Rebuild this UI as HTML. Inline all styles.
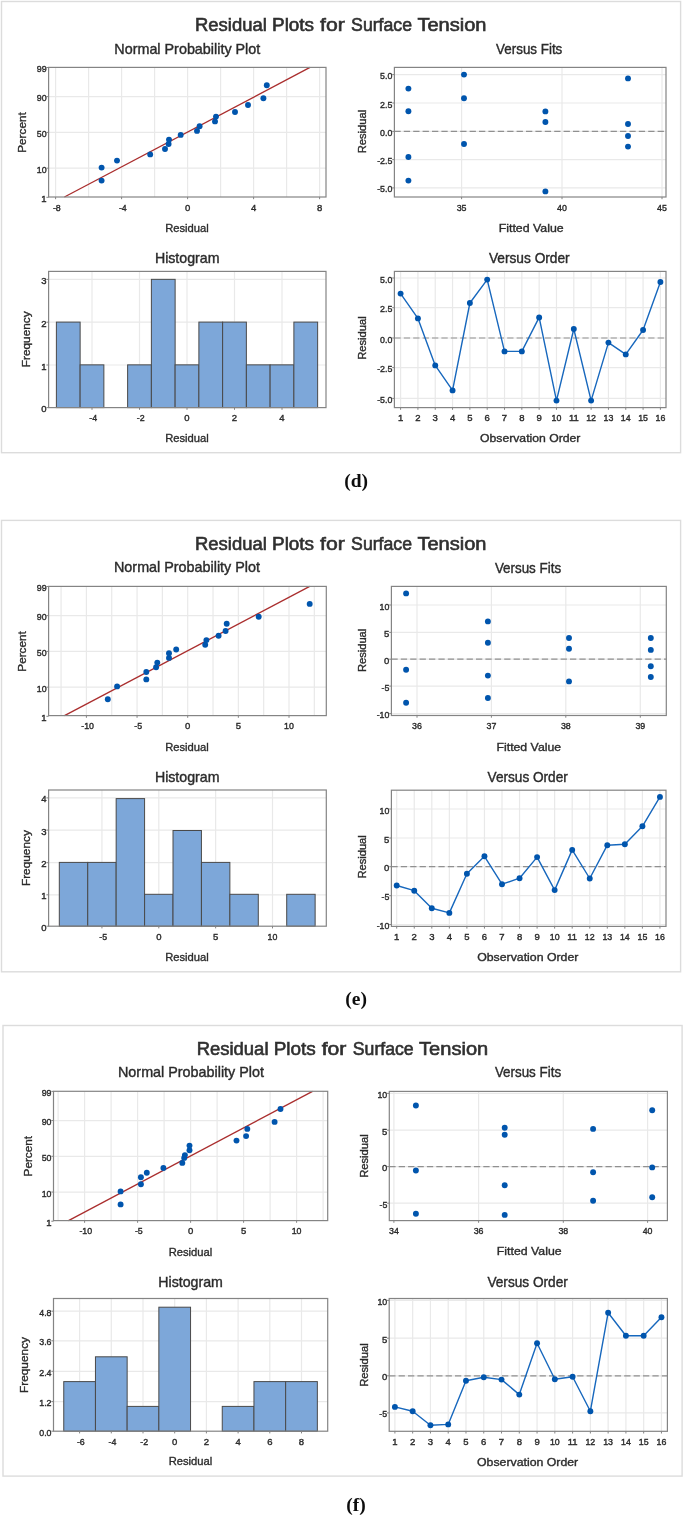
<!DOCTYPE html>
<html lang="en"><head><meta charset="utf-8"><title>Residual Plots for Surface Tension</title>
<style>
html,body{margin:0;padding:0;background:#fff;}
svg{display:block;font-family:"Liberation Sans", sans-serif;}
</style></head><body>
<svg width="685" height="1516" viewBox="0 0 685 1516">
<defs><filter id="soft" x="0" y="0" width="685" height="1516" filterUnits="userSpaceOnUse"><feGaussianBlur stdDeviation="0.38"/></filter></defs>
<rect width="685" height="1516" fill="#fff"/>
<g filter="url(#soft)">
<rect x="1.50" y="1.50" width="679.10" height="451.20" fill="#fff" stroke="#dcdcdc" stroke-width="1.4"/>
<text y="31.30" font-size="17.6" fill="#303030" stroke="#303030" stroke-width="0.6" text-anchor="start" xml:space="default"><tspan x="195.00" textLength="71.80" lengthAdjust="spacingAndGlyphs">Residual</tspan> <tspan x="272.00" textLength="42.10" lengthAdjust="spacingAndGlyphs">Plots</tspan> <tspan x="320.00" textLength="24.70" lengthAdjust="spacingAndGlyphs">for</tspan> <tspan x="351.10" textLength="60.90" lengthAdjust="spacingAndGlyphs">Surface</tspan> <tspan x="417.40" textLength="69.10" lengthAdjust="spacingAndGlyphs">Tension</tspan></text>
<text x="187.30" y="53.50" font-size="14.5" text-anchor="middle" fill="#2c2c2c" textLength="146.00" lengthAdjust="spacingAndGlyphs" stroke="#2c2c2c" stroke-width="0.4">Normal Probability Plot</text>
<rect x="48.60" y="67.40" width="277.40" height="129.60" fill="#fff"/>
<path d="M55.60 67.40V197.00M88.60 67.40V197.00M121.60 67.40V197.00M154.60 67.40V197.00M187.60 67.40V197.00M220.60 67.40V197.00M253.60 67.40V197.00M286.60 67.40V197.00M319.60 67.40V197.00M48.60 168.16H326.00M48.60 132.40H326.00M48.60 96.64H326.00" stroke="#e9e9e9" stroke-width="1.2" fill="none"/>
<line x1="64.40" y1="197.00" x2="310.00" y2="67.40" stroke="#aa2e2e" stroke-width="1.3"/>
<circle cx="101.60" cy="180.60" r="2.95" fill="#0054ad"/>
<circle cx="101.60" cy="167.60" r="2.95" fill="#0054ad"/>
<circle cx="117.00" cy="160.60" r="2.95" fill="#0054ad"/>
<circle cx="150.20" cy="154.40" r="2.95" fill="#0054ad"/>
<circle cx="165.00" cy="149.00" r="2.95" fill="#0054ad"/>
<circle cx="168.60" cy="144.00" r="2.95" fill="#0054ad"/>
<circle cx="169.00" cy="139.60" r="2.95" fill="#0054ad"/>
<circle cx="180.70" cy="134.90" r="2.95" fill="#0054ad"/>
<circle cx="197.00" cy="130.90" r="2.95" fill="#0054ad"/>
<circle cx="199.60" cy="126.30" r="2.95" fill="#0054ad"/>
<circle cx="215.00" cy="121.40" r="2.95" fill="#0054ad"/>
<circle cx="216.00" cy="116.60" r="2.95" fill="#0054ad"/>
<circle cx="235.00" cy="112.00" r="2.95" fill="#0054ad"/>
<circle cx="248.00" cy="105.00" r="2.95" fill="#0054ad"/>
<circle cx="263.40" cy="98.20" r="2.95" fill="#0054ad"/>
<circle cx="266.80" cy="85.30" r="2.95" fill="#0054ad"/>
<path d="M55.60 197.00v2.2M121.60 197.00v2.2M187.60 197.00v2.2M253.60 197.00v2.2M319.60 197.00v2.2M48.60 197.31h-2.2M48.60 168.16h-2.2M48.60 132.40h-2.2M48.60 96.64h-2.2M48.60 67.49h-2.2" stroke="#848484" stroke-width="1" fill="none"/>
<rect x="48.60" y="67.40" width="277.40" height="129.60" fill="none" stroke="#848484" stroke-width="1.2"/>
<text x="56.80" y="210.80" font-size="9.5" text-anchor="middle" fill="#2c2c2c" textLength="7.85" lengthAdjust="spacingAndGlyphs" stroke="#2c2c2c" stroke-width="0.4">-8</text>
<text x="122.80" y="210.80" font-size="9.5" text-anchor="middle" fill="#2c2c2c" textLength="7.85" lengthAdjust="spacingAndGlyphs" stroke="#2c2c2c" stroke-width="0.4">-4</text>
<text x="187.60" y="210.80" font-size="9.5" text-anchor="middle" fill="#2c2c2c" stroke="#2c2c2c" stroke-width="0.4">0</text>
<text x="253.60" y="210.80" font-size="9.5" text-anchor="middle" fill="#2c2c2c" stroke="#2c2c2c" stroke-width="0.4">4</text>
<text x="319.60" y="210.80" font-size="9.5" text-anchor="middle" fill="#2c2c2c" stroke="#2c2c2c" stroke-width="0.4">8</text>
<text x="46.60" y="201.81" font-size="9.5" text-anchor="end" fill="#2c2c2c" stroke="#2c2c2c" stroke-width="0.4">1</text>
<text x="46.60" y="172.66" font-size="9.5" text-anchor="end" fill="#2c2c2c" textLength="9.82" lengthAdjust="spacingAndGlyphs" stroke="#2c2c2c" stroke-width="0.4">10</text>
<text x="46.60" y="136.90" font-size="9.5" text-anchor="end" fill="#2c2c2c" textLength="9.82" lengthAdjust="spacingAndGlyphs" stroke="#2c2c2c" stroke-width="0.4">50</text>
<text x="46.60" y="101.14" font-size="9.5" text-anchor="end" fill="#2c2c2c" textLength="9.82" lengthAdjust="spacingAndGlyphs" stroke="#2c2c2c" stroke-width="0.4">90</text>
<text x="46.60" y="71.99" font-size="9.5" text-anchor="end" fill="#2c2c2c" textLength="9.82" lengthAdjust="spacingAndGlyphs" stroke="#2c2c2c" stroke-width="0.4">99</text>
<text x="187.00" y="232.10" font-size="11.2" text-anchor="middle" fill="#2c2c2c" textLength="43.60" lengthAdjust="spacingAndGlyphs" stroke="#2c2c2c" stroke-width="0.35">Residual</text>
<text x="26.20" y="132.50" font-size="11.2" text-anchor="middle" fill="#2c2c2c" textLength="40.50" lengthAdjust="spacingAndGlyphs" transform="rotate(-90 26.20 132.50)" stroke="#2c2c2c" stroke-width="0.35">Percent</text>
<text x="529.20" y="53.60" font-size="14.5" text-anchor="middle" fill="#2c2c2c" textLength="66.20" lengthAdjust="spacingAndGlyphs" stroke="#2c2c2c" stroke-width="0.4">Versus Fits</text>
<rect x="394.40" y="67.40" width="271.60" height="129.60" fill="#fff"/>
<path d="M461.60 67.40V197.00M562.00 67.40V197.00M662.00 67.40V197.00M394.40 74.60H666.00M394.40 103.00H666.00M394.40 131.40H666.00M394.40 159.60H666.00M394.40 187.90H666.00" stroke="#e9e9e9" stroke-width="1.2" fill="none"/>
<line x1="394.40" y1="131.40" x2="666.00" y2="131.40" stroke="#909090" stroke-width="1.2" stroke-dasharray="6.3 3.1"/>
<circle cx="408.40" cy="88.60" r="2.95" fill="#0054ad"/>
<circle cx="408.40" cy="111.20" r="2.95" fill="#0054ad"/>
<circle cx="408.40" cy="157.00" r="2.95" fill="#0054ad"/>
<circle cx="408.40" cy="180.60" r="2.95" fill="#0054ad"/>
<circle cx="464.00" cy="74.60" r="2.95" fill="#0054ad"/>
<circle cx="464.00" cy="98.20" r="2.95" fill="#0054ad"/>
<circle cx="464.00" cy="144.00" r="2.95" fill="#0054ad"/>
<circle cx="545.40" cy="111.40" r="2.95" fill="#0054ad"/>
<circle cx="545.40" cy="122.00" r="2.95" fill="#0054ad"/>
<circle cx="545.40" cy="191.40" r="2.95" fill="#0054ad"/>
<circle cx="628.00" cy="78.40" r="2.95" fill="#0054ad"/>
<circle cx="628.00" cy="124.00" r="2.95" fill="#0054ad"/>
<circle cx="628.00" cy="136.00" r="2.95" fill="#0054ad"/>
<circle cx="628.00" cy="146.60" r="2.95" fill="#0054ad"/>
<path d="M461.60 197.00v2.2M562.00 197.00v2.2M662.00 197.00v2.2M394.40 74.60h-2.2M394.40 103.00h-2.2M394.40 131.40h-2.2M394.40 159.60h-2.2M394.40 187.90h-2.2" stroke="#848484" stroke-width="1" fill="none"/>
<rect x="394.40" y="67.40" width="271.60" height="129.60" fill="none" stroke="#848484" stroke-width="1.2"/>
<text x="461.60" y="210.80" font-size="9.5" text-anchor="middle" fill="#2c2c2c" textLength="9.82" lengthAdjust="spacingAndGlyphs" stroke="#2c2c2c" stroke-width="0.4">35</text>
<text x="562.00" y="210.80" font-size="9.5" text-anchor="middle" fill="#2c2c2c" textLength="9.82" lengthAdjust="spacingAndGlyphs" stroke="#2c2c2c" stroke-width="0.4">40</text>
<text x="662.00" y="210.80" font-size="9.5" text-anchor="middle" fill="#2c2c2c" textLength="9.82" lengthAdjust="spacingAndGlyphs" stroke="#2c2c2c" stroke-width="0.4">45</text>
<text x="392.40" y="79.10" font-size="9.5" text-anchor="end" fill="#2c2c2c" textLength="12.28" lengthAdjust="spacingAndGlyphs" stroke="#2c2c2c" stroke-width="0.4">5.0</text>
<text x="392.40" y="107.50" font-size="9.5" text-anchor="end" fill="#2c2c2c" textLength="12.28" lengthAdjust="spacingAndGlyphs" stroke="#2c2c2c" stroke-width="0.4">2.5</text>
<text x="392.40" y="135.90" font-size="9.5" text-anchor="end" fill="#2c2c2c" textLength="12.28" lengthAdjust="spacingAndGlyphs" stroke="#2c2c2c" stroke-width="0.4">0.0</text>
<text x="392.40" y="164.10" font-size="9.5" text-anchor="end" fill="#2c2c2c" textLength="15.22" lengthAdjust="spacingAndGlyphs" stroke="#2c2c2c" stroke-width="0.4">-2.5</text>
<text x="392.40" y="192.40" font-size="9.5" text-anchor="end" fill="#2c2c2c" textLength="15.22" lengthAdjust="spacingAndGlyphs" stroke="#2c2c2c" stroke-width="0.4">-5.0</text>
<text x="531.20" y="232.00" font-size="11.2" text-anchor="middle" fill="#2c2c2c" textLength="65.00" lengthAdjust="spacingAndGlyphs" stroke="#2c2c2c" stroke-width="0.35">Fitted Value</text>
<text x="366.00" y="131.50" font-size="11.2" text-anchor="middle" fill="#2c2c2c" textLength="43.40" lengthAdjust="spacingAndGlyphs" transform="rotate(-90 366.00 131.50)" stroke="#2c2c2c" stroke-width="0.35">Residual</text>
<text x="187.20" y="263.30" font-size="14.5" text-anchor="middle" fill="#2c2c2c" textLength="64.60" lengthAdjust="spacingAndGlyphs" stroke="#2c2c2c" stroke-width="0.4">Histogram</text>
<rect x="48.60" y="271.40" width="277.40" height="136.20" fill="#fff"/>
<path d="M92.00 271.40V407.60M139.50 271.40V407.60M187.00 271.40V407.60M234.50 271.40V407.60M282.00 271.40V407.60M48.60 365.00H326.00M48.60 322.20H326.00M48.60 279.40H326.00" stroke="#e9e9e9" stroke-width="1.2" fill="none"/>
<rect x="56.38" y="322.10" width="23.75" height="85.50" fill="#7da7d9" stroke="#4a4a4a" stroke-width="1.0"/>
<rect x="80.12" y="364.85" width="23.75" height="42.75" fill="#7da7d9" stroke="#4a4a4a" stroke-width="1.0"/>
<rect x="127.62" y="364.85" width="23.75" height="42.75" fill="#7da7d9" stroke="#4a4a4a" stroke-width="1.0"/>
<rect x="151.38" y="279.35" width="23.75" height="128.25" fill="#7da7d9" stroke="#4a4a4a" stroke-width="1.0"/>
<rect x="175.12" y="364.85" width="23.75" height="42.75" fill="#7da7d9" stroke="#4a4a4a" stroke-width="1.0"/>
<rect x="198.88" y="322.10" width="23.75" height="85.50" fill="#7da7d9" stroke="#4a4a4a" stroke-width="1.0"/>
<rect x="222.62" y="322.10" width="23.75" height="85.50" fill="#7da7d9" stroke="#4a4a4a" stroke-width="1.0"/>
<rect x="246.38" y="364.85" width="23.75" height="42.75" fill="#7da7d9" stroke="#4a4a4a" stroke-width="1.0"/>
<rect x="270.12" y="364.85" width="23.75" height="42.75" fill="#7da7d9" stroke="#4a4a4a" stroke-width="1.0"/>
<rect x="293.88" y="322.10" width="23.75" height="85.50" fill="#7da7d9" stroke="#4a4a4a" stroke-width="1.0"/>
<path d="M92.00 407.60v2.2M139.50 407.60v2.2M187.00 407.60v2.2M234.50 407.60v2.2M282.00 407.60v2.2M48.60 407.60h-2.2M48.60 365.00h-2.2M48.60 322.20h-2.2M48.60 279.40h-2.2" stroke="#848484" stroke-width="1" fill="none"/>
<rect x="48.60" y="271.40" width="277.40" height="136.20" fill="none" stroke="#848484" stroke-width="1.2"/>
<text x="93.20" y="421.40" font-size="9.5" text-anchor="middle" fill="#2c2c2c" textLength="7.85" lengthAdjust="spacingAndGlyphs" stroke="#2c2c2c" stroke-width="0.4">-4</text>
<text x="140.70" y="421.40" font-size="9.5" text-anchor="middle" fill="#2c2c2c" textLength="7.85" lengthAdjust="spacingAndGlyphs" stroke="#2c2c2c" stroke-width="0.4">-2</text>
<text x="187.00" y="421.40" font-size="9.5" text-anchor="middle" fill="#2c2c2c" stroke="#2c2c2c" stroke-width="0.4">0</text>
<text x="234.50" y="421.40" font-size="9.5" text-anchor="middle" fill="#2c2c2c" stroke="#2c2c2c" stroke-width="0.4">2</text>
<text x="282.00" y="421.40" font-size="9.5" text-anchor="middle" fill="#2c2c2c" stroke="#2c2c2c" stroke-width="0.4">4</text>
<text x="46.60" y="412.10" font-size="9.5" text-anchor="end" fill="#2c2c2c" stroke="#2c2c2c" stroke-width="0.4">0</text>
<text x="46.60" y="369.50" font-size="9.5" text-anchor="end" fill="#2c2c2c" stroke="#2c2c2c" stroke-width="0.4">1</text>
<text x="46.60" y="326.70" font-size="9.5" text-anchor="end" fill="#2c2c2c" stroke="#2c2c2c" stroke-width="0.4">2</text>
<text x="46.60" y="283.90" font-size="9.5" text-anchor="end" fill="#2c2c2c" stroke="#2c2c2c" stroke-width="0.4">3</text>
<text x="187.00" y="441.60" font-size="11.2" text-anchor="middle" fill="#2c2c2c" textLength="43.60" lengthAdjust="spacingAndGlyphs" stroke="#2c2c2c" stroke-width="0.35">Residual</text>
<text x="30.50" y="339.30" font-size="11.2" text-anchor="middle" fill="#2c2c2c" textLength="56.00" lengthAdjust="spacingAndGlyphs" transform="rotate(-90 30.50 339.30)" stroke="#2c2c2c" stroke-width="0.35">Frequency</text>
<text x="529.30" y="263.30" font-size="14.5" text-anchor="middle" fill="#2c2c2c" textLength="80.80" lengthAdjust="spacingAndGlyphs" stroke="#2c2c2c" stroke-width="0.4">Versus Order</text>
<rect x="394.40" y="271.40" width="271.60" height="136.20" fill="#fff"/>
<path d="M400.60 271.40V407.60M417.92 271.40V407.60M435.24 271.40V407.60M452.56 271.40V407.60M469.88 271.40V407.60M487.20 271.40V407.60M504.52 271.40V407.60M521.84 271.40V407.60M539.16 271.40V407.60M556.48 271.40V407.60M573.80 271.40V407.60M591.12 271.40V407.60M608.44 271.40V407.60M625.76 271.40V407.60M643.08 271.40V407.60M660.40 271.40V407.60M394.40 278.00H666.00M394.40 307.70H666.00M394.40 338.00H666.00M394.40 367.60H666.00M394.40 398.40H666.00" stroke="#e9e9e9" stroke-width="1.2" fill="none"/>
<line x1="394.40" y1="338.00" x2="666.00" y2="338.00" stroke="#909090" stroke-width="1.2" stroke-dasharray="6.3 3.1"/>
<path d="M400.60 293.60L417.92 318.40L435.24 365.40L452.56 390.40L469.88 303.00L487.20 279.60L504.52 351.40L521.84 351.40L539.16 317.40L556.48 400.60L573.80 329.00L591.12 400.60L608.44 342.60L625.76 354.40L643.08 330.00L660.40 282.00" stroke="#1767bd" stroke-width="1.4" fill="none" stroke-linejoin="round"/>
<circle cx="400.60" cy="293.60" r="2.95" fill="#0054ad"/>
<circle cx="417.92" cy="318.40" r="2.95" fill="#0054ad"/>
<circle cx="435.24" cy="365.40" r="2.95" fill="#0054ad"/>
<circle cx="452.56" cy="390.40" r="2.95" fill="#0054ad"/>
<circle cx="469.88" cy="303.00" r="2.95" fill="#0054ad"/>
<circle cx="487.20" cy="279.60" r="2.95" fill="#0054ad"/>
<circle cx="504.52" cy="351.40" r="2.95" fill="#0054ad"/>
<circle cx="521.84" cy="351.40" r="2.95" fill="#0054ad"/>
<circle cx="539.16" cy="317.40" r="2.95" fill="#0054ad"/>
<circle cx="556.48" cy="400.60" r="2.95" fill="#0054ad"/>
<circle cx="573.80" cy="329.00" r="2.95" fill="#0054ad"/>
<circle cx="591.12" cy="400.60" r="2.95" fill="#0054ad"/>
<circle cx="608.44" cy="342.60" r="2.95" fill="#0054ad"/>
<circle cx="625.76" cy="354.40" r="2.95" fill="#0054ad"/>
<circle cx="643.08" cy="330.00" r="2.95" fill="#0054ad"/>
<circle cx="660.40" cy="282.00" r="2.95" fill="#0054ad"/>
<path d="M400.60 407.60v2.2M417.92 407.60v2.2M435.24 407.60v2.2M452.56 407.60v2.2M469.88 407.60v2.2M487.20 407.60v2.2M504.52 407.60v2.2M521.84 407.60v2.2M539.16 407.60v2.2M556.48 407.60v2.2M573.80 407.60v2.2M591.12 407.60v2.2M608.44 407.60v2.2M625.76 407.60v2.2M643.08 407.60v2.2M660.40 407.60v2.2M394.40 278.00h-2.2M394.40 307.70h-2.2M394.40 338.00h-2.2M394.40 367.60h-2.2M394.40 398.40h-2.2" stroke="#848484" stroke-width="1" fill="none"/>
<rect x="394.40" y="271.40" width="271.60" height="136.20" fill="none" stroke="#848484" stroke-width="1.2"/>
<text x="400.60" y="421.40" font-size="9.5" text-anchor="middle" fill="#2c2c2c" stroke="#2c2c2c" stroke-width="0.4">1</text>
<text x="417.92" y="421.40" font-size="9.5" text-anchor="middle" fill="#2c2c2c" stroke="#2c2c2c" stroke-width="0.4">2</text>
<text x="435.24" y="421.40" font-size="9.5" text-anchor="middle" fill="#2c2c2c" stroke="#2c2c2c" stroke-width="0.4">3</text>
<text x="452.56" y="421.40" font-size="9.5" text-anchor="middle" fill="#2c2c2c" stroke="#2c2c2c" stroke-width="0.4">4</text>
<text x="469.88" y="421.40" font-size="9.5" text-anchor="middle" fill="#2c2c2c" stroke="#2c2c2c" stroke-width="0.4">5</text>
<text x="487.20" y="421.40" font-size="9.5" text-anchor="middle" fill="#2c2c2c" stroke="#2c2c2c" stroke-width="0.4">6</text>
<text x="504.52" y="421.40" font-size="9.5" text-anchor="middle" fill="#2c2c2c" stroke="#2c2c2c" stroke-width="0.4">7</text>
<text x="521.84" y="421.40" font-size="9.5" text-anchor="middle" fill="#2c2c2c" stroke="#2c2c2c" stroke-width="0.4">8</text>
<text x="539.16" y="421.40" font-size="9.5" text-anchor="middle" fill="#2c2c2c" stroke="#2c2c2c" stroke-width="0.4">9</text>
<text x="556.48" y="421.40" font-size="9.5" text-anchor="middle" fill="#2c2c2c" textLength="9.82" lengthAdjust="spacingAndGlyphs" stroke="#2c2c2c" stroke-width="0.4">10</text>
<text x="573.80" y="421.40" font-size="9.5" text-anchor="middle" fill="#2c2c2c" textLength="9.82" lengthAdjust="spacingAndGlyphs" stroke="#2c2c2c" stroke-width="0.4">11</text>
<text x="591.12" y="421.40" font-size="9.5" text-anchor="middle" fill="#2c2c2c" textLength="9.82" lengthAdjust="spacingAndGlyphs" stroke="#2c2c2c" stroke-width="0.4">12</text>
<text x="608.44" y="421.40" font-size="9.5" text-anchor="middle" fill="#2c2c2c" textLength="9.82" lengthAdjust="spacingAndGlyphs" stroke="#2c2c2c" stroke-width="0.4">13</text>
<text x="625.76" y="421.40" font-size="9.5" text-anchor="middle" fill="#2c2c2c" textLength="9.82" lengthAdjust="spacingAndGlyphs" stroke="#2c2c2c" stroke-width="0.4">14</text>
<text x="643.08" y="421.40" font-size="9.5" text-anchor="middle" fill="#2c2c2c" textLength="9.82" lengthAdjust="spacingAndGlyphs" stroke="#2c2c2c" stroke-width="0.4">15</text>
<text x="660.40" y="421.40" font-size="9.5" text-anchor="middle" fill="#2c2c2c" textLength="9.82" lengthAdjust="spacingAndGlyphs" stroke="#2c2c2c" stroke-width="0.4">16</text>
<text x="392.40" y="282.50" font-size="9.5" text-anchor="end" fill="#2c2c2c" textLength="12.28" lengthAdjust="spacingAndGlyphs" stroke="#2c2c2c" stroke-width="0.4">5.0</text>
<text x="392.40" y="312.20" font-size="9.5" text-anchor="end" fill="#2c2c2c" textLength="12.28" lengthAdjust="spacingAndGlyphs" stroke="#2c2c2c" stroke-width="0.4">2.5</text>
<text x="392.40" y="342.50" font-size="9.5" text-anchor="end" fill="#2c2c2c" textLength="12.28" lengthAdjust="spacingAndGlyphs" stroke="#2c2c2c" stroke-width="0.4">0.0</text>
<text x="392.40" y="372.10" font-size="9.5" text-anchor="end" fill="#2c2c2c" textLength="15.22" lengthAdjust="spacingAndGlyphs" stroke="#2c2c2c" stroke-width="0.4">-2.5</text>
<text x="392.40" y="402.90" font-size="9.5" text-anchor="end" fill="#2c2c2c" textLength="15.22" lengthAdjust="spacingAndGlyphs" stroke="#2c2c2c" stroke-width="0.4">-5.0</text>
<text x="530.20" y="442.40" font-size="11.2" text-anchor="middle" fill="#2c2c2c" textLength="100.40" lengthAdjust="spacingAndGlyphs" stroke="#2c2c2c" stroke-width="0.35">Observation Order</text>
<text x="366.00" y="338.00" font-size="11.2" text-anchor="middle" fill="#2c2c2c" textLength="43.40" lengthAdjust="spacingAndGlyphs" transform="rotate(-90 366.00 338.00)" stroke="#2c2c2c" stroke-width="0.35">Residual</text>
<text x="356.20" y="486.60" font-size="19.5" text-anchor="middle" fill="#111" font-weight="bold" font-family='"Liberation Serif", serif'>(d)</text>
<rect x="1.50" y="520.40" width="679.10" height="451.40" fill="#fff" stroke="#dcdcdc" stroke-width="1.4"/>
<text y="550.20" font-size="17.6" fill="#303030" stroke="#303030" stroke-width="0.6" text-anchor="start" xml:space="default"><tspan x="195.00" textLength="71.80" lengthAdjust="spacingAndGlyphs">Residual</tspan> <tspan x="272.00" textLength="42.10" lengthAdjust="spacingAndGlyphs">Plots</tspan> <tspan x="320.00" textLength="24.70" lengthAdjust="spacingAndGlyphs">for</tspan> <tspan x="351.10" textLength="60.90" lengthAdjust="spacingAndGlyphs">Surface</tspan> <tspan x="417.40" textLength="69.10" lengthAdjust="spacingAndGlyphs">Tension</tspan></text>
<text x="187.00" y="572.40" font-size="14.5" text-anchor="middle" fill="#2c2c2c" textLength="146.00" lengthAdjust="spacingAndGlyphs" stroke="#2c2c2c" stroke-width="0.4">Normal Probability Plot</text>
<rect x="48.60" y="586.40" width="277.70" height="129.20" fill="#fff"/>
<path d="M61.07 586.40V715.60M86.40 586.40V715.60M111.72 586.40V715.60M137.05 586.40V715.60M162.38 586.40V715.60M187.70 586.40V715.60M213.02 586.40V715.60M238.35 586.40V715.60M263.68 586.40V715.60M289.00 586.40V715.60M314.32 586.40V715.60M48.60 687.16H326.30M48.60 651.40H326.30M48.60 615.64H326.30" stroke="#e9e9e9" stroke-width="1.2" fill="none"/>
<line x1="64.50" y1="715.60" x2="309.70" y2="586.40" stroke="#aa2e2e" stroke-width="1.3"/>
<circle cx="107.80" cy="699.30" r="2.95" fill="#0054ad"/>
<circle cx="117.10" cy="686.40" r="2.95" fill="#0054ad"/>
<circle cx="146.30" cy="679.40" r="2.95" fill="#0054ad"/>
<circle cx="146.30" cy="672.00" r="2.95" fill="#0054ad"/>
<circle cx="156.10" cy="667.30" r="2.95" fill="#0054ad"/>
<circle cx="157.30" cy="662.60" r="2.95" fill="#0054ad"/>
<circle cx="169.00" cy="657.90" r="2.95" fill="#0054ad"/>
<circle cx="169.00" cy="653.30" r="2.95" fill="#0054ad"/>
<circle cx="176.20" cy="649.50" r="2.95" fill="#0054ad"/>
<circle cx="205.20" cy="644.80" r="2.95" fill="#0054ad"/>
<circle cx="206.40" cy="640.10" r="2.95" fill="#0054ad"/>
<circle cx="218.60" cy="635.70" r="2.95" fill="#0054ad"/>
<circle cx="225.60" cy="631.00" r="2.95" fill="#0054ad"/>
<circle cx="226.70" cy="623.70" r="2.95" fill="#0054ad"/>
<circle cx="258.70" cy="616.70" r="2.95" fill="#0054ad"/>
<circle cx="309.70" cy="603.90" r="2.95" fill="#0054ad"/>
<path d="M86.40 715.60v2.2M137.05 715.60v2.2M187.70 715.60v2.2M238.35 715.60v2.2M289.00 715.60v2.2M48.60 716.31h-2.2M48.60 687.16h-2.2M48.60 651.40h-2.2M48.60 615.64h-2.2M48.60 586.49h-2.2" stroke="#848484" stroke-width="1" fill="none"/>
<rect x="48.60" y="586.40" width="277.70" height="129.20" fill="none" stroke="#848484" stroke-width="1.2"/>
<text x="87.60" y="729.40" font-size="9.5" text-anchor="middle" fill="#2c2c2c" textLength="12.77" lengthAdjust="spacingAndGlyphs" stroke="#2c2c2c" stroke-width="0.4">-10</text>
<text x="138.25" y="729.40" font-size="9.5" text-anchor="middle" fill="#2c2c2c" textLength="7.85" lengthAdjust="spacingAndGlyphs" stroke="#2c2c2c" stroke-width="0.4">-5</text>
<text x="187.70" y="729.40" font-size="9.5" text-anchor="middle" fill="#2c2c2c" stroke="#2c2c2c" stroke-width="0.4">0</text>
<text x="238.35" y="729.40" font-size="9.5" text-anchor="middle" fill="#2c2c2c" stroke="#2c2c2c" stroke-width="0.4">5</text>
<text x="289.00" y="729.40" font-size="9.5" text-anchor="middle" fill="#2c2c2c" textLength="9.82" lengthAdjust="spacingAndGlyphs" stroke="#2c2c2c" stroke-width="0.4">10</text>
<text x="46.60" y="720.81" font-size="9.5" text-anchor="end" fill="#2c2c2c" stroke="#2c2c2c" stroke-width="0.4">1</text>
<text x="46.60" y="691.66" font-size="9.5" text-anchor="end" fill="#2c2c2c" textLength="9.82" lengthAdjust="spacingAndGlyphs" stroke="#2c2c2c" stroke-width="0.4">10</text>
<text x="46.60" y="655.90" font-size="9.5" text-anchor="end" fill="#2c2c2c" textLength="9.82" lengthAdjust="spacingAndGlyphs" stroke="#2c2c2c" stroke-width="0.4">50</text>
<text x="46.60" y="620.14" font-size="9.5" text-anchor="end" fill="#2c2c2c" textLength="9.82" lengthAdjust="spacingAndGlyphs" stroke="#2c2c2c" stroke-width="0.4">90</text>
<text x="46.60" y="590.99" font-size="9.5" text-anchor="end" fill="#2c2c2c" textLength="9.82" lengthAdjust="spacingAndGlyphs" stroke="#2c2c2c" stroke-width="0.4">99</text>
<text x="187.00" y="751.00" font-size="11.2" text-anchor="middle" fill="#2c2c2c" textLength="43.60" lengthAdjust="spacingAndGlyphs" stroke="#2c2c2c" stroke-width="0.35">Residual</text>
<text x="26.20" y="651.40" font-size="11.2" text-anchor="middle" fill="#2c2c2c" textLength="40.50" lengthAdjust="spacingAndGlyphs" transform="rotate(-90 26.20 651.40)" stroke="#2c2c2c" stroke-width="0.35">Percent</text>
<text x="528.00" y="572.50" font-size="14.5" text-anchor="middle" fill="#2c2c2c" textLength="66.20" lengthAdjust="spacingAndGlyphs" stroke="#2c2c2c" stroke-width="0.4">Versus Fits</text>
<rect x="391.40" y="586.40" width="274.90" height="129.10" fill="#fff"/>
<path d="M417.00 586.40V715.50M491.40 586.40V715.50M565.80 586.40V715.50M640.30 586.40V715.50M391.40 605.00H666.30M391.40 632.40H666.30M391.40 659.20H666.30M391.40 686.10H666.30M391.40 713.60H666.30" stroke="#e9e9e9" stroke-width="1.2" fill="none"/>
<line x1="391.40" y1="659.20" x2="666.30" y2="659.20" stroke="#909090" stroke-width="1.2" stroke-dasharray="6.3 3.1"/>
<circle cx="406.10" cy="593.40" r="2.95" fill="#0054ad"/>
<circle cx="406.10" cy="669.70" r="2.95" fill="#0054ad"/>
<circle cx="406.10" cy="702.70" r="2.95" fill="#0054ad"/>
<circle cx="487.90" cy="621.40" r="2.95" fill="#0054ad"/>
<circle cx="487.90" cy="642.70" r="2.95" fill="#0054ad"/>
<circle cx="487.90" cy="675.60" r="2.95" fill="#0054ad"/>
<circle cx="487.90" cy="698.00" r="2.95" fill="#0054ad"/>
<circle cx="569.00" cy="638.00" r="2.95" fill="#0054ad"/>
<circle cx="569.00" cy="648.70" r="2.95" fill="#0054ad"/>
<circle cx="569.00" cy="681.40" r="2.95" fill="#0054ad"/>
<circle cx="650.80" cy="638.00" r="2.95" fill="#0054ad"/>
<circle cx="650.80" cy="649.90" r="2.95" fill="#0054ad"/>
<circle cx="650.80" cy="666.30" r="2.95" fill="#0054ad"/>
<circle cx="650.80" cy="677.00" r="2.95" fill="#0054ad"/>
<path d="M417.00 715.50v2.2M491.40 715.50v2.2M565.80 715.50v2.2M640.30 715.50v2.2M391.40 605.00h-2.2M391.40 632.40h-2.2M391.40 659.20h-2.2M391.40 686.10h-2.2M391.40 713.60h-2.2" stroke="#848484" stroke-width="1" fill="none"/>
<rect x="391.40" y="586.40" width="274.90" height="129.10" fill="none" stroke="#848484" stroke-width="1.2"/>
<text x="417.00" y="729.30" font-size="9.5" text-anchor="middle" fill="#2c2c2c" textLength="9.82" lengthAdjust="spacingAndGlyphs" stroke="#2c2c2c" stroke-width="0.4">36</text>
<text x="491.40" y="729.30" font-size="9.5" text-anchor="middle" fill="#2c2c2c" textLength="9.82" lengthAdjust="spacingAndGlyphs" stroke="#2c2c2c" stroke-width="0.4">37</text>
<text x="565.80" y="729.30" font-size="9.5" text-anchor="middle" fill="#2c2c2c" textLength="9.82" lengthAdjust="spacingAndGlyphs" stroke="#2c2c2c" stroke-width="0.4">38</text>
<text x="640.30" y="729.30" font-size="9.5" text-anchor="middle" fill="#2c2c2c" textLength="9.82" lengthAdjust="spacingAndGlyphs" stroke="#2c2c2c" stroke-width="0.4">39</text>
<text x="389.40" y="609.50" font-size="9.5" text-anchor="end" fill="#2c2c2c" textLength="9.82" lengthAdjust="spacingAndGlyphs" stroke="#2c2c2c" stroke-width="0.4">10</text>
<text x="389.40" y="636.90" font-size="9.5" text-anchor="end" fill="#2c2c2c" stroke="#2c2c2c" stroke-width="0.4">5</text>
<text x="389.40" y="663.70" font-size="9.5" text-anchor="end" fill="#2c2c2c" stroke="#2c2c2c" stroke-width="0.4">0</text>
<text x="389.40" y="690.60" font-size="9.5" text-anchor="end" fill="#2c2c2c" textLength="7.85" lengthAdjust="spacingAndGlyphs" stroke="#2c2c2c" stroke-width="0.4">-5</text>
<text x="389.40" y="718.10" font-size="9.5" text-anchor="end" fill="#2c2c2c" textLength="12.77" lengthAdjust="spacingAndGlyphs" stroke="#2c2c2c" stroke-width="0.4">-10</text>
<text x="528.80" y="750.50" font-size="11.2" text-anchor="middle" fill="#2c2c2c" textLength="64.60" lengthAdjust="spacingAndGlyphs" stroke="#2c2c2c" stroke-width="0.35">Fitted Value</text>
<text x="366.00" y="650.40" font-size="11.2" text-anchor="middle" fill="#2c2c2c" textLength="43.40" lengthAdjust="spacingAndGlyphs" transform="rotate(-90 366.00 650.40)" stroke="#2c2c2c" stroke-width="0.35">Residual</text>
<text x="187.20" y="782.20" font-size="14.5" text-anchor="middle" fill="#2c2c2c" textLength="64.60" lengthAdjust="spacingAndGlyphs" stroke="#2c2c2c" stroke-width="0.4">Histogram</text>
<rect x="48.60" y="790.00" width="277.70" height="136.20" fill="#fff"/>
<path d="M101.95 790.00V926.20M158.80 790.00V926.20M215.65 790.00V926.20M272.50 790.00V926.20M48.60 894.80H326.30M48.60 862.70H326.30M48.60 830.10H326.30M48.60 797.90H326.30" stroke="#e9e9e9" stroke-width="1.2" fill="none"/>
<rect x="59.31" y="862.40" width="28.42" height="63.80" fill="#7da7d9" stroke="#4a4a4a" stroke-width="1.0"/>
<rect x="87.74" y="862.40" width="28.43" height="63.80" fill="#7da7d9" stroke="#4a4a4a" stroke-width="1.0"/>
<rect x="116.16" y="798.60" width="28.42" height="127.60" fill="#7da7d9" stroke="#4a4a4a" stroke-width="1.0"/>
<rect x="144.59" y="894.30" width="28.43" height="31.90" fill="#7da7d9" stroke="#4a4a4a" stroke-width="1.0"/>
<rect x="173.01" y="830.50" width="28.42" height="95.70" fill="#7da7d9" stroke="#4a4a4a" stroke-width="1.0"/>
<rect x="201.44" y="862.40" width="28.43" height="63.80" fill="#7da7d9" stroke="#4a4a4a" stroke-width="1.0"/>
<rect x="229.86" y="894.30" width="28.43" height="31.90" fill="#7da7d9" stroke="#4a4a4a" stroke-width="1.0"/>
<rect x="286.71" y="894.30" width="28.43" height="31.90" fill="#7da7d9" stroke="#4a4a4a" stroke-width="1.0"/>
<path d="M101.95 926.20v2.2M158.80 926.20v2.2M215.65 926.20v2.2M272.50 926.20v2.2M48.60 926.20h-2.2M48.60 894.80h-2.2M48.60 862.70h-2.2M48.60 830.10h-2.2M48.60 797.90h-2.2" stroke="#848484" stroke-width="1" fill="none"/>
<rect x="48.60" y="790.00" width="277.70" height="136.20" fill="none" stroke="#848484" stroke-width="1.2"/>
<text x="103.15" y="940.00" font-size="9.5" text-anchor="middle" fill="#2c2c2c" textLength="7.85" lengthAdjust="spacingAndGlyphs" stroke="#2c2c2c" stroke-width="0.4">-5</text>
<text x="158.80" y="940.00" font-size="9.5" text-anchor="middle" fill="#2c2c2c" stroke="#2c2c2c" stroke-width="0.4">0</text>
<text x="215.65" y="940.00" font-size="9.5" text-anchor="middle" fill="#2c2c2c" stroke="#2c2c2c" stroke-width="0.4">5</text>
<text x="272.50" y="940.00" font-size="9.5" text-anchor="middle" fill="#2c2c2c" textLength="9.82" lengthAdjust="spacingAndGlyphs" stroke="#2c2c2c" stroke-width="0.4">10</text>
<text x="46.60" y="930.70" font-size="9.5" text-anchor="end" fill="#2c2c2c" stroke="#2c2c2c" stroke-width="0.4">0</text>
<text x="46.60" y="899.30" font-size="9.5" text-anchor="end" fill="#2c2c2c" stroke="#2c2c2c" stroke-width="0.4">1</text>
<text x="46.60" y="867.20" font-size="9.5" text-anchor="end" fill="#2c2c2c" stroke="#2c2c2c" stroke-width="0.4">2</text>
<text x="46.60" y="834.60" font-size="9.5" text-anchor="end" fill="#2c2c2c" stroke="#2c2c2c" stroke-width="0.4">3</text>
<text x="46.60" y="802.40" font-size="9.5" text-anchor="end" fill="#2c2c2c" stroke="#2c2c2c" stroke-width="0.4">4</text>
<text x="187.00" y="960.50" font-size="11.2" text-anchor="middle" fill="#2c2c2c" textLength="43.60" lengthAdjust="spacingAndGlyphs" stroke="#2c2c2c" stroke-width="0.35">Residual</text>
<text x="30.50" y="858.10" font-size="11.2" text-anchor="middle" fill="#2c2c2c" textLength="56.00" lengthAdjust="spacingAndGlyphs" transform="rotate(-90 30.50 858.10)" stroke="#2c2c2c" stroke-width="0.35">Frequency</text>
<text x="527.70" y="781.90" font-size="14.5" text-anchor="middle" fill="#2c2c2c" textLength="80.20" lengthAdjust="spacingAndGlyphs" stroke="#2c2c2c" stroke-width="0.4">Versus Order</text>
<rect x="391.40" y="790.20" width="274.60" height="136.20" fill="#fff"/>
<path d="M396.70 790.20V926.40M414.25 790.20V926.40M431.80 790.20V926.40M449.35 790.20V926.40M466.90 790.20V926.40M484.45 790.20V926.40M502.00 790.20V926.40M519.55 790.20V926.40M537.10 790.20V926.40M554.65 790.20V926.40M572.20 790.20V926.40M589.75 790.20V926.40M607.30 790.20V926.40M624.85 790.20V926.40M642.40 790.20V926.40M659.95 790.20V926.40M391.40 809.00H666.00M391.40 838.00H666.00M391.40 866.70H666.00M391.40 895.70H666.00M391.40 924.50H666.00" stroke="#e9e9e9" stroke-width="1.2" fill="none"/>
<line x1="391.40" y1="866.70" x2="666.00" y2="866.70" stroke="#909090" stroke-width="1.2" stroke-dasharray="6.3 3.1"/>
<path d="M396.70 885.50L414.25 890.70L431.80 908.20L449.35 912.90L466.90 873.80L484.45 856.30L502.00 884.20L519.55 878.20L537.10 857.10L554.65 890.10L572.20 849.90L589.75 878.50L607.30 845.20L624.85 844.30L642.40 826.30L659.95 796.90" stroke="#1767bd" stroke-width="1.4" fill="none" stroke-linejoin="round"/>
<circle cx="396.70" cy="885.50" r="2.95" fill="#0054ad"/>
<circle cx="414.25" cy="890.70" r="2.95" fill="#0054ad"/>
<circle cx="431.80" cy="908.20" r="2.95" fill="#0054ad"/>
<circle cx="449.35" cy="912.90" r="2.95" fill="#0054ad"/>
<circle cx="466.90" cy="873.80" r="2.95" fill="#0054ad"/>
<circle cx="484.45" cy="856.30" r="2.95" fill="#0054ad"/>
<circle cx="502.00" cy="884.20" r="2.95" fill="#0054ad"/>
<circle cx="519.55" cy="878.20" r="2.95" fill="#0054ad"/>
<circle cx="537.10" cy="857.10" r="2.95" fill="#0054ad"/>
<circle cx="554.65" cy="890.10" r="2.95" fill="#0054ad"/>
<circle cx="572.20" cy="849.90" r="2.95" fill="#0054ad"/>
<circle cx="589.75" cy="878.50" r="2.95" fill="#0054ad"/>
<circle cx="607.30" cy="845.20" r="2.95" fill="#0054ad"/>
<circle cx="624.85" cy="844.30" r="2.95" fill="#0054ad"/>
<circle cx="642.40" cy="826.30" r="2.95" fill="#0054ad"/>
<circle cx="659.95" cy="796.90" r="2.95" fill="#0054ad"/>
<path d="M396.70 926.40v2.2M414.25 926.40v2.2M431.80 926.40v2.2M449.35 926.40v2.2M466.90 926.40v2.2M484.45 926.40v2.2M502.00 926.40v2.2M519.55 926.40v2.2M537.10 926.40v2.2M554.65 926.40v2.2M572.20 926.40v2.2M589.75 926.40v2.2M607.30 926.40v2.2M624.85 926.40v2.2M642.40 926.40v2.2M659.95 926.40v2.2M391.40 809.00h-2.2M391.40 838.00h-2.2M391.40 866.70h-2.2M391.40 895.70h-2.2M391.40 924.50h-2.2" stroke="#848484" stroke-width="1" fill="none"/>
<rect x="391.40" y="790.20" width="274.60" height="136.20" fill="none" stroke="#848484" stroke-width="1.2"/>
<text x="396.70" y="940.20" font-size="9.5" text-anchor="middle" fill="#2c2c2c" stroke="#2c2c2c" stroke-width="0.4">1</text>
<text x="414.25" y="940.20" font-size="9.5" text-anchor="middle" fill="#2c2c2c" stroke="#2c2c2c" stroke-width="0.4">2</text>
<text x="431.80" y="940.20" font-size="9.5" text-anchor="middle" fill="#2c2c2c" stroke="#2c2c2c" stroke-width="0.4">3</text>
<text x="449.35" y="940.20" font-size="9.5" text-anchor="middle" fill="#2c2c2c" stroke="#2c2c2c" stroke-width="0.4">4</text>
<text x="466.90" y="940.20" font-size="9.5" text-anchor="middle" fill="#2c2c2c" stroke="#2c2c2c" stroke-width="0.4">5</text>
<text x="484.45" y="940.20" font-size="9.5" text-anchor="middle" fill="#2c2c2c" stroke="#2c2c2c" stroke-width="0.4">6</text>
<text x="502.00" y="940.20" font-size="9.5" text-anchor="middle" fill="#2c2c2c" stroke="#2c2c2c" stroke-width="0.4">7</text>
<text x="519.55" y="940.20" font-size="9.5" text-anchor="middle" fill="#2c2c2c" stroke="#2c2c2c" stroke-width="0.4">8</text>
<text x="537.10" y="940.20" font-size="9.5" text-anchor="middle" fill="#2c2c2c" stroke="#2c2c2c" stroke-width="0.4">9</text>
<text x="554.65" y="940.20" font-size="9.5" text-anchor="middle" fill="#2c2c2c" textLength="9.82" lengthAdjust="spacingAndGlyphs" stroke="#2c2c2c" stroke-width="0.4">10</text>
<text x="572.20" y="940.20" font-size="9.5" text-anchor="middle" fill="#2c2c2c" textLength="9.82" lengthAdjust="spacingAndGlyphs" stroke="#2c2c2c" stroke-width="0.4">11</text>
<text x="589.75" y="940.20" font-size="9.5" text-anchor="middle" fill="#2c2c2c" textLength="9.82" lengthAdjust="spacingAndGlyphs" stroke="#2c2c2c" stroke-width="0.4">12</text>
<text x="607.30" y="940.20" font-size="9.5" text-anchor="middle" fill="#2c2c2c" textLength="9.82" lengthAdjust="spacingAndGlyphs" stroke="#2c2c2c" stroke-width="0.4">13</text>
<text x="624.85" y="940.20" font-size="9.5" text-anchor="middle" fill="#2c2c2c" textLength="9.82" lengthAdjust="spacingAndGlyphs" stroke="#2c2c2c" stroke-width="0.4">14</text>
<text x="642.40" y="940.20" font-size="9.5" text-anchor="middle" fill="#2c2c2c" textLength="9.82" lengthAdjust="spacingAndGlyphs" stroke="#2c2c2c" stroke-width="0.4">15</text>
<text x="659.95" y="940.20" font-size="9.5" text-anchor="middle" fill="#2c2c2c" textLength="9.82" lengthAdjust="spacingAndGlyphs" stroke="#2c2c2c" stroke-width="0.4">16</text>
<text x="389.40" y="813.50" font-size="9.5" text-anchor="end" fill="#2c2c2c" textLength="9.82" lengthAdjust="spacingAndGlyphs" stroke="#2c2c2c" stroke-width="0.4">10</text>
<text x="389.40" y="842.50" font-size="9.5" text-anchor="end" fill="#2c2c2c" stroke="#2c2c2c" stroke-width="0.4">5</text>
<text x="389.40" y="871.20" font-size="9.5" text-anchor="end" fill="#2c2c2c" stroke="#2c2c2c" stroke-width="0.4">0</text>
<text x="389.40" y="900.20" font-size="9.5" text-anchor="end" fill="#2c2c2c" textLength="7.85" lengthAdjust="spacingAndGlyphs" stroke="#2c2c2c" stroke-width="0.4">-5</text>
<text x="389.40" y="929.00" font-size="9.5" text-anchor="end" fill="#2c2c2c" textLength="12.77" lengthAdjust="spacingAndGlyphs" stroke="#2c2c2c" stroke-width="0.4">-10</text>
<text x="527.80" y="961.10" font-size="11.2" text-anchor="middle" fill="#2c2c2c" textLength="101.20" lengthAdjust="spacingAndGlyphs" stroke="#2c2c2c" stroke-width="0.35">Observation Order</text>
<text x="366.00" y="856.90" font-size="11.2" text-anchor="middle" fill="#2c2c2c" textLength="43.40" lengthAdjust="spacingAndGlyphs" transform="rotate(-90 366.00 856.90)" stroke="#2c2c2c" stroke-width="0.35">Residual</text>
<text x="356.10" y="1005.20" font-size="19.5" text-anchor="middle" fill="#111" font-weight="bold" font-family='"Liberation Serif", serif'>(e)</text>
<rect x="3.00" y="1025.50" width="679.10" height="450.60" fill="#fff" stroke="#dcdcdc" stroke-width="1.4"/>
<text y="1055.00" font-size="17.6" fill="#303030" stroke="#303030" stroke-width="0.6" text-anchor="start" xml:space="default"><tspan x="196.70" textLength="71.80" lengthAdjust="spacingAndGlyphs">Residual</tspan> <tspan x="273.70" textLength="42.10" lengthAdjust="spacingAndGlyphs">Plots</tspan> <tspan x="321.70" textLength="24.70" lengthAdjust="spacingAndGlyphs">for</tspan> <tspan x="352.80" textLength="60.90" lengthAdjust="spacingAndGlyphs">Surface</tspan> <tspan x="419.10" textLength="69.10" lengthAdjust="spacingAndGlyphs">Tension</tspan></text>
<text x="191.00" y="1076.70" font-size="14.5" text-anchor="middle" fill="#2c2c2c" textLength="146.00" lengthAdjust="spacingAndGlyphs" stroke="#2c2c2c" stroke-width="0.4">Normal Probability Plot</text>
<rect x="53.50" y="1091.30" width="274.20" height="129.30" fill="#fff"/>
<path d="M58.10 1091.30V1220.60M84.60 1091.30V1220.60M111.10 1091.30V1220.60M137.60 1091.30V1220.60M164.10 1091.30V1220.60M190.60 1091.30V1220.60M217.10 1091.30V1220.60M243.60 1091.30V1220.60M270.10 1091.30V1220.60M296.60 1091.30V1220.60M323.10 1091.30V1220.60M53.50 1192.06H327.70M53.50 1156.30H327.70M53.50 1120.54H327.70" stroke="#e9e9e9" stroke-width="1.2" fill="none"/>
<line x1="68.50" y1="1220.60" x2="312.50" y2="1091.40" stroke="#aa2e2e" stroke-width="1.3"/>
<circle cx="120.60" cy="1204.40" r="2.95" fill="#0054ad"/>
<circle cx="120.60" cy="1191.40" r="2.95" fill="#0054ad"/>
<circle cx="140.90" cy="1184.30" r="2.95" fill="#0054ad"/>
<circle cx="140.90" cy="1177.30" r="2.95" fill="#0054ad"/>
<circle cx="146.80" cy="1172.70" r="2.95" fill="#0054ad"/>
<circle cx="163.40" cy="1168.00" r="2.95" fill="#0054ad"/>
<circle cx="182.30" cy="1162.90" r="2.95" fill="#0054ad"/>
<circle cx="184.20" cy="1157.90" r="2.95" fill="#0054ad"/>
<circle cx="184.90" cy="1155.10" r="2.95" fill="#0054ad"/>
<circle cx="189.50" cy="1150.20" r="2.95" fill="#0054ad"/>
<circle cx="189.50" cy="1145.60" r="2.95" fill="#0054ad"/>
<circle cx="236.50" cy="1140.60" r="2.95" fill="#0054ad"/>
<circle cx="246.10" cy="1136.10" r="2.95" fill="#0054ad"/>
<circle cx="247.30" cy="1128.90" r="2.95" fill="#0054ad"/>
<circle cx="274.60" cy="1121.90" r="2.95" fill="#0054ad"/>
<circle cx="280.50" cy="1109.00" r="2.95" fill="#0054ad"/>
<path d="M84.60 1220.60v2.2M137.60 1220.60v2.2M190.60 1220.60v2.2M243.60 1220.60v2.2M296.60 1220.60v2.2M53.50 1221.21h-2.2M53.50 1192.06h-2.2M53.50 1156.30h-2.2M53.50 1120.54h-2.2M53.50 1091.39h-2.2" stroke="#848484" stroke-width="1" fill="none"/>
<rect x="53.50" y="1091.30" width="274.20" height="129.30" fill="none" stroke="#848484" stroke-width="1.2"/>
<text x="85.80" y="1234.40" font-size="9.5" text-anchor="middle" fill="#2c2c2c" textLength="12.77" lengthAdjust="spacingAndGlyphs" stroke="#2c2c2c" stroke-width="0.4">-10</text>
<text x="138.80" y="1234.40" font-size="9.5" text-anchor="middle" fill="#2c2c2c" textLength="7.85" lengthAdjust="spacingAndGlyphs" stroke="#2c2c2c" stroke-width="0.4">-5</text>
<text x="190.60" y="1234.40" font-size="9.5" text-anchor="middle" fill="#2c2c2c" stroke="#2c2c2c" stroke-width="0.4">0</text>
<text x="243.60" y="1234.40" font-size="9.5" text-anchor="middle" fill="#2c2c2c" stroke="#2c2c2c" stroke-width="0.4">5</text>
<text x="296.60" y="1234.40" font-size="9.5" text-anchor="middle" fill="#2c2c2c" textLength="9.82" lengthAdjust="spacingAndGlyphs" stroke="#2c2c2c" stroke-width="0.4">10</text>
<text x="51.50" y="1225.71" font-size="9.5" text-anchor="end" fill="#2c2c2c" stroke="#2c2c2c" stroke-width="0.4">1</text>
<text x="51.50" y="1196.56" font-size="9.5" text-anchor="end" fill="#2c2c2c" textLength="9.82" lengthAdjust="spacingAndGlyphs" stroke="#2c2c2c" stroke-width="0.4">10</text>
<text x="51.50" y="1160.80" font-size="9.5" text-anchor="end" fill="#2c2c2c" textLength="9.82" lengthAdjust="spacingAndGlyphs" stroke="#2c2c2c" stroke-width="0.4">50</text>
<text x="51.50" y="1125.04" font-size="9.5" text-anchor="end" fill="#2c2c2c" textLength="9.82" lengthAdjust="spacingAndGlyphs" stroke="#2c2c2c" stroke-width="0.4">90</text>
<text x="51.50" y="1095.89" font-size="9.5" text-anchor="end" fill="#2c2c2c" textLength="9.82" lengthAdjust="spacingAndGlyphs" stroke="#2c2c2c" stroke-width="0.4">99</text>
<text x="190.50" y="1255.50" font-size="11.2" text-anchor="middle" fill="#2c2c2c" textLength="43.60" lengthAdjust="spacingAndGlyphs" stroke="#2c2c2c" stroke-width="0.35">Residual</text>
<text x="31.80" y="1156.20" font-size="11.2" text-anchor="middle" fill="#2c2c2c" textLength="40.50" lengthAdjust="spacingAndGlyphs" transform="rotate(-90 31.80 1156.20)" stroke="#2c2c2c" stroke-width="0.35">Percent</text>
<text x="528.00" y="1076.70" font-size="14.5" text-anchor="middle" fill="#2c2c2c" textLength="66.20" lengthAdjust="spacingAndGlyphs" stroke="#2c2c2c" stroke-width="0.4">Versus Fits</text>
<rect x="389.30" y="1091.40" width="278.10" height="129.20" fill="#fff"/>
<path d="M393.90 1091.40V1220.60M478.60 1091.40V1220.60M563.30 1091.40V1220.60M647.60 1091.40V1220.60M389.30 1093.40H667.40M389.30 1130.20H667.40M389.30 1166.60H667.40M389.30 1203.20H667.40" stroke="#e9e9e9" stroke-width="1.2" fill="none"/>
<line x1="389.30" y1="1166.60" x2="667.40" y2="1166.60" stroke="#909090" stroke-width="1.2" stroke-dasharray="6.3 3.1"/>
<circle cx="415.90" cy="1105.50" r="2.95" fill="#0054ad"/>
<circle cx="415.90" cy="1170.50" r="2.95" fill="#0054ad"/>
<circle cx="415.90" cy="1213.70" r="2.95" fill="#0054ad"/>
<circle cx="504.70" cy="1127.70" r="2.95" fill="#0054ad"/>
<circle cx="504.70" cy="1134.70" r="2.95" fill="#0054ad"/>
<circle cx="504.70" cy="1185.20" r="2.95" fill="#0054ad"/>
<circle cx="504.70" cy="1214.90" r="2.95" fill="#0054ad"/>
<circle cx="593.10" cy="1128.90" r="2.95" fill="#0054ad"/>
<circle cx="593.10" cy="1172.30" r="2.95" fill="#0054ad"/>
<circle cx="593.10" cy="1200.80" r="2.95" fill="#0054ad"/>
<circle cx="652.20" cy="1110.20" r="2.95" fill="#0054ad"/>
<circle cx="652.20" cy="1167.40" r="2.95" fill="#0054ad"/>
<circle cx="652.20" cy="1197.30" r="2.95" fill="#0054ad"/>
<path d="M393.90 1220.60v2.2M478.60 1220.60v2.2M563.30 1220.60v2.2M647.60 1220.60v2.2M389.30 1093.40h-2.2M389.30 1130.20h-2.2M389.30 1166.60h-2.2M389.30 1203.20h-2.2" stroke="#848484" stroke-width="1" fill="none"/>
<rect x="389.30" y="1091.40" width="278.10" height="129.20" fill="none" stroke="#848484" stroke-width="1.2"/>
<text x="393.90" y="1234.40" font-size="9.5" text-anchor="middle" fill="#2c2c2c" textLength="9.82" lengthAdjust="spacingAndGlyphs" stroke="#2c2c2c" stroke-width="0.4">34</text>
<text x="478.60" y="1234.40" font-size="9.5" text-anchor="middle" fill="#2c2c2c" textLength="9.82" lengthAdjust="spacingAndGlyphs" stroke="#2c2c2c" stroke-width="0.4">36</text>
<text x="563.30" y="1234.40" font-size="9.5" text-anchor="middle" fill="#2c2c2c" textLength="9.82" lengthAdjust="spacingAndGlyphs" stroke="#2c2c2c" stroke-width="0.4">38</text>
<text x="647.60" y="1234.40" font-size="9.5" text-anchor="middle" fill="#2c2c2c" textLength="9.82" lengthAdjust="spacingAndGlyphs" stroke="#2c2c2c" stroke-width="0.4">40</text>
<text x="387.30" y="1097.90" font-size="9.5" text-anchor="end" fill="#2c2c2c" textLength="9.82" lengthAdjust="spacingAndGlyphs" stroke="#2c2c2c" stroke-width="0.4">10</text>
<text x="387.30" y="1134.70" font-size="9.5" text-anchor="end" fill="#2c2c2c" stroke="#2c2c2c" stroke-width="0.4">5</text>
<text x="387.30" y="1171.10" font-size="9.5" text-anchor="end" fill="#2c2c2c" stroke="#2c2c2c" stroke-width="0.4">0</text>
<text x="387.30" y="1207.70" font-size="9.5" text-anchor="end" fill="#2c2c2c" textLength="7.85" lengthAdjust="spacingAndGlyphs" stroke="#2c2c2c" stroke-width="0.4">-5</text>
<text x="529.20" y="1255.40" font-size="11.2" text-anchor="middle" fill="#2c2c2c" textLength="64.80" lengthAdjust="spacingAndGlyphs" stroke="#2c2c2c" stroke-width="0.35">Fitted Value</text>
<text x="367.80" y="1156.00" font-size="11.2" text-anchor="middle" fill="#2c2c2c" textLength="43.40" lengthAdjust="spacingAndGlyphs" transform="rotate(-90 367.80 1156.00)" stroke="#2c2c2c" stroke-width="0.35">Residual</text>
<text x="190.60" y="1286.70" font-size="14.5" text-anchor="middle" fill="#2c2c2c" textLength="64.60" lengthAdjust="spacingAndGlyphs" stroke="#2c2c2c" stroke-width="0.4">Histogram</text>
<rect x="53.50" y="1298.50" width="274.20" height="132.70" fill="#fff"/>
<path d="M79.60 1298.50V1431.20M111.30 1298.50V1431.20M143.00 1298.50V1431.20M174.70 1298.50V1431.20M206.40 1298.50V1431.20M238.10 1298.50V1431.20M269.80 1298.50V1431.20M301.50 1298.50V1431.20M53.50 1401.60H327.70M53.50 1371.30H327.70M53.50 1340.80H327.70M53.50 1311.20H327.70" stroke="#e9e9e9" stroke-width="1.2" fill="none"/>
<rect x="63.75" y="1381.60" width="31.70" height="49.60" fill="#7da7d9" stroke="#4a4a4a" stroke-width="1.0"/>
<rect x="95.45" y="1356.80" width="31.70" height="74.40" fill="#7da7d9" stroke="#4a4a4a" stroke-width="1.0"/>
<rect x="127.15" y="1406.40" width="31.70" height="24.80" fill="#7da7d9" stroke="#4a4a4a" stroke-width="1.0"/>
<rect x="158.85" y="1307.20" width="31.70" height="124.00" fill="#7da7d9" stroke="#4a4a4a" stroke-width="1.0"/>
<rect x="222.25" y="1406.40" width="31.70" height="24.80" fill="#7da7d9" stroke="#4a4a4a" stroke-width="1.0"/>
<rect x="253.95" y="1381.60" width="31.70" height="49.60" fill="#7da7d9" stroke="#4a4a4a" stroke-width="1.0"/>
<rect x="285.65" y="1381.60" width="31.70" height="49.60" fill="#7da7d9" stroke="#4a4a4a" stroke-width="1.0"/>
<path d="M79.60 1431.20v2.2M111.30 1431.20v2.2M143.00 1431.20v2.2M174.70 1431.20v2.2M206.40 1431.20v2.2M238.10 1431.20v2.2M269.80 1431.20v2.2M301.50 1431.20v2.2M53.50 1431.20h-2.2M53.50 1401.60h-2.2M53.50 1371.30h-2.2M53.50 1340.80h-2.2M53.50 1311.20h-2.2" stroke="#848484" stroke-width="1" fill="none"/>
<rect x="53.50" y="1298.50" width="274.20" height="132.70" fill="none" stroke="#848484" stroke-width="1.2"/>
<text x="80.80" y="1445.00" font-size="9.5" text-anchor="middle" fill="#2c2c2c" textLength="7.85" lengthAdjust="spacingAndGlyphs" stroke="#2c2c2c" stroke-width="0.4">-6</text>
<text x="112.50" y="1445.00" font-size="9.5" text-anchor="middle" fill="#2c2c2c" textLength="7.85" lengthAdjust="spacingAndGlyphs" stroke="#2c2c2c" stroke-width="0.4">-4</text>
<text x="144.20" y="1445.00" font-size="9.5" text-anchor="middle" fill="#2c2c2c" textLength="7.85" lengthAdjust="spacingAndGlyphs" stroke="#2c2c2c" stroke-width="0.4">-2</text>
<text x="174.70" y="1445.00" font-size="9.5" text-anchor="middle" fill="#2c2c2c" stroke="#2c2c2c" stroke-width="0.4">0</text>
<text x="206.40" y="1445.00" font-size="9.5" text-anchor="middle" fill="#2c2c2c" stroke="#2c2c2c" stroke-width="0.4">2</text>
<text x="238.10" y="1445.00" font-size="9.5" text-anchor="middle" fill="#2c2c2c" stroke="#2c2c2c" stroke-width="0.4">4</text>
<text x="269.80" y="1445.00" font-size="9.5" text-anchor="middle" fill="#2c2c2c" stroke="#2c2c2c" stroke-width="0.4">6</text>
<text x="301.50" y="1445.00" font-size="9.5" text-anchor="middle" fill="#2c2c2c" stroke="#2c2c2c" stroke-width="0.4">8</text>
<text x="51.50" y="1435.70" font-size="9.5" text-anchor="end" fill="#2c2c2c" textLength="12.28" lengthAdjust="spacingAndGlyphs" stroke="#2c2c2c" stroke-width="0.4">0.0</text>
<text x="51.50" y="1406.10" font-size="9.5" text-anchor="end" fill="#2c2c2c" textLength="12.28" lengthAdjust="spacingAndGlyphs" stroke="#2c2c2c" stroke-width="0.4">1.2</text>
<text x="51.50" y="1375.80" font-size="9.5" text-anchor="end" fill="#2c2c2c" textLength="12.28" lengthAdjust="spacingAndGlyphs" stroke="#2c2c2c" stroke-width="0.4">2.4</text>
<text x="51.50" y="1345.30" font-size="9.5" text-anchor="end" fill="#2c2c2c" textLength="12.28" lengthAdjust="spacingAndGlyphs" stroke="#2c2c2c" stroke-width="0.4">3.6</text>
<text x="51.50" y="1315.70" font-size="9.5" text-anchor="end" fill="#2c2c2c" textLength="12.28" lengthAdjust="spacingAndGlyphs" stroke="#2c2c2c" stroke-width="0.4">4.8</text>
<text x="190.50" y="1465.00" font-size="11.2" text-anchor="middle" fill="#2c2c2c" textLength="43.60" lengthAdjust="spacingAndGlyphs" stroke="#2c2c2c" stroke-width="0.35">Residual</text>
<text x="28.20" y="1365.00" font-size="11.2" text-anchor="middle" fill="#2c2c2c" textLength="56.00" lengthAdjust="spacingAndGlyphs" transform="rotate(-90 28.20 1365.00)" stroke="#2c2c2c" stroke-width="0.35">Frequency</text>
<text x="527.60" y="1286.70" font-size="14.5" text-anchor="middle" fill="#2c2c2c" textLength="80.40" lengthAdjust="spacingAndGlyphs" stroke="#2c2c2c" stroke-width="0.4">Versus Order</text>
<rect x="389.20" y="1298.50" width="278.20" height="132.80" fill="#fff"/>
<path d="M394.90 1298.50V1431.30M412.67 1298.50V1431.30M430.44 1298.50V1431.30M448.21 1298.50V1431.30M465.98 1298.50V1431.30M483.75 1298.50V1431.30M501.52 1298.50V1431.30M519.29 1298.50V1431.30M537.06 1298.50V1431.30M554.83 1298.50V1431.30M572.60 1298.50V1431.30M590.37 1298.50V1431.30M608.14 1298.50V1431.30M625.91 1298.50V1431.30M643.68 1298.50V1431.30M661.45 1298.50V1431.30M389.20 1300.40H667.40M389.20 1338.20H667.40M389.20 1375.80H667.40M389.20 1412.90H667.40" stroke="#e9e9e9" stroke-width="1.2" fill="none"/>
<line x1="389.20" y1="1375.80" x2="667.40" y2="1375.80" stroke="#909090" stroke-width="1.2" stroke-dasharray="6.3 3.1"/>
<path d="M394.90 1406.90L412.67 1411.30L430.44 1425.30L448.21 1424.40L465.98 1380.70L483.75 1377.20L501.52 1379.60L519.29 1394.60L537.06 1343.20L554.83 1379.30L572.60 1376.80L590.37 1411.20L608.14 1312.70L625.91 1335.80L643.68 1335.80L661.45 1317.20" stroke="#1767bd" stroke-width="1.4" fill="none" stroke-linejoin="round"/>
<circle cx="394.90" cy="1406.90" r="2.95" fill="#0054ad"/>
<circle cx="412.67" cy="1411.30" r="2.95" fill="#0054ad"/>
<circle cx="430.44" cy="1425.30" r="2.95" fill="#0054ad"/>
<circle cx="448.21" cy="1424.40" r="2.95" fill="#0054ad"/>
<circle cx="465.98" cy="1380.70" r="2.95" fill="#0054ad"/>
<circle cx="483.75" cy="1377.20" r="2.95" fill="#0054ad"/>
<circle cx="501.52" cy="1379.60" r="2.95" fill="#0054ad"/>
<circle cx="519.29" cy="1394.60" r="2.95" fill="#0054ad"/>
<circle cx="537.06" cy="1343.20" r="2.95" fill="#0054ad"/>
<circle cx="554.83" cy="1379.30" r="2.95" fill="#0054ad"/>
<circle cx="572.60" cy="1376.80" r="2.95" fill="#0054ad"/>
<circle cx="590.37" cy="1411.20" r="2.95" fill="#0054ad"/>
<circle cx="608.14" cy="1312.70" r="2.95" fill="#0054ad"/>
<circle cx="625.91" cy="1335.80" r="2.95" fill="#0054ad"/>
<circle cx="643.68" cy="1335.80" r="2.95" fill="#0054ad"/>
<circle cx="661.45" cy="1317.20" r="2.95" fill="#0054ad"/>
<path d="M394.90 1431.30v2.2M412.67 1431.30v2.2M430.44 1431.30v2.2M448.21 1431.30v2.2M465.98 1431.30v2.2M483.75 1431.30v2.2M501.52 1431.30v2.2M519.29 1431.30v2.2M537.06 1431.30v2.2M554.83 1431.30v2.2M572.60 1431.30v2.2M590.37 1431.30v2.2M608.14 1431.30v2.2M625.91 1431.30v2.2M643.68 1431.30v2.2M661.45 1431.30v2.2M389.20 1300.40h-2.2M389.20 1338.20h-2.2M389.20 1375.80h-2.2M389.20 1412.90h-2.2" stroke="#848484" stroke-width="1" fill="none"/>
<rect x="389.20" y="1298.50" width="278.20" height="132.80" fill="none" stroke="#848484" stroke-width="1.2"/>
<text x="394.90" y="1445.10" font-size="9.5" text-anchor="middle" fill="#2c2c2c" stroke="#2c2c2c" stroke-width="0.4">1</text>
<text x="412.67" y="1445.10" font-size="9.5" text-anchor="middle" fill="#2c2c2c" stroke="#2c2c2c" stroke-width="0.4">2</text>
<text x="430.44" y="1445.10" font-size="9.5" text-anchor="middle" fill="#2c2c2c" stroke="#2c2c2c" stroke-width="0.4">3</text>
<text x="448.21" y="1445.10" font-size="9.5" text-anchor="middle" fill="#2c2c2c" stroke="#2c2c2c" stroke-width="0.4">4</text>
<text x="465.98" y="1445.10" font-size="9.5" text-anchor="middle" fill="#2c2c2c" stroke="#2c2c2c" stroke-width="0.4">5</text>
<text x="483.75" y="1445.10" font-size="9.5" text-anchor="middle" fill="#2c2c2c" stroke="#2c2c2c" stroke-width="0.4">6</text>
<text x="501.52" y="1445.10" font-size="9.5" text-anchor="middle" fill="#2c2c2c" stroke="#2c2c2c" stroke-width="0.4">7</text>
<text x="519.29" y="1445.10" font-size="9.5" text-anchor="middle" fill="#2c2c2c" stroke="#2c2c2c" stroke-width="0.4">8</text>
<text x="537.06" y="1445.10" font-size="9.5" text-anchor="middle" fill="#2c2c2c" stroke="#2c2c2c" stroke-width="0.4">9</text>
<text x="554.83" y="1445.10" font-size="9.5" text-anchor="middle" fill="#2c2c2c" textLength="9.82" lengthAdjust="spacingAndGlyphs" stroke="#2c2c2c" stroke-width="0.4">10</text>
<text x="572.60" y="1445.10" font-size="9.5" text-anchor="middle" fill="#2c2c2c" textLength="9.82" lengthAdjust="spacingAndGlyphs" stroke="#2c2c2c" stroke-width="0.4">11</text>
<text x="590.37" y="1445.10" font-size="9.5" text-anchor="middle" fill="#2c2c2c" textLength="9.82" lengthAdjust="spacingAndGlyphs" stroke="#2c2c2c" stroke-width="0.4">12</text>
<text x="608.14" y="1445.10" font-size="9.5" text-anchor="middle" fill="#2c2c2c" textLength="9.82" lengthAdjust="spacingAndGlyphs" stroke="#2c2c2c" stroke-width="0.4">13</text>
<text x="625.91" y="1445.10" font-size="9.5" text-anchor="middle" fill="#2c2c2c" textLength="9.82" lengthAdjust="spacingAndGlyphs" stroke="#2c2c2c" stroke-width="0.4">14</text>
<text x="643.68" y="1445.10" font-size="9.5" text-anchor="middle" fill="#2c2c2c" textLength="9.82" lengthAdjust="spacingAndGlyphs" stroke="#2c2c2c" stroke-width="0.4">15</text>
<text x="661.45" y="1445.10" font-size="9.5" text-anchor="middle" fill="#2c2c2c" textLength="9.82" lengthAdjust="spacingAndGlyphs" stroke="#2c2c2c" stroke-width="0.4">16</text>
<text x="387.20" y="1304.90" font-size="9.5" text-anchor="end" fill="#2c2c2c" textLength="9.82" lengthAdjust="spacingAndGlyphs" stroke="#2c2c2c" stroke-width="0.4">10</text>
<text x="387.20" y="1342.70" font-size="9.5" text-anchor="end" fill="#2c2c2c" stroke="#2c2c2c" stroke-width="0.4">5</text>
<text x="387.20" y="1380.30" font-size="9.5" text-anchor="end" fill="#2c2c2c" stroke="#2c2c2c" stroke-width="0.4">0</text>
<text x="387.20" y="1417.40" font-size="9.5" text-anchor="end" fill="#2c2c2c" textLength="7.85" lengthAdjust="spacingAndGlyphs" stroke="#2c2c2c" stroke-width="0.4">-5</text>
<text x="527.60" y="1465.90" font-size="11.2" text-anchor="middle" fill="#2c2c2c" textLength="101.20" lengthAdjust="spacingAndGlyphs" stroke="#2c2c2c" stroke-width="0.35">Observation Order</text>
<text x="367.80" y="1365.00" font-size="11.2" text-anchor="middle" fill="#2c2c2c" textLength="43.40" lengthAdjust="spacingAndGlyphs" transform="rotate(-90 367.80 1365.00)" stroke="#2c2c2c" stroke-width="0.35">Residual</text>
<text x="356.10" y="1510.80" font-size="19.5" text-anchor="middle" fill="#111" font-weight="bold" font-family='"Liberation Serif", serif'>(f)</text>
</g>
</svg>
</body></html>
